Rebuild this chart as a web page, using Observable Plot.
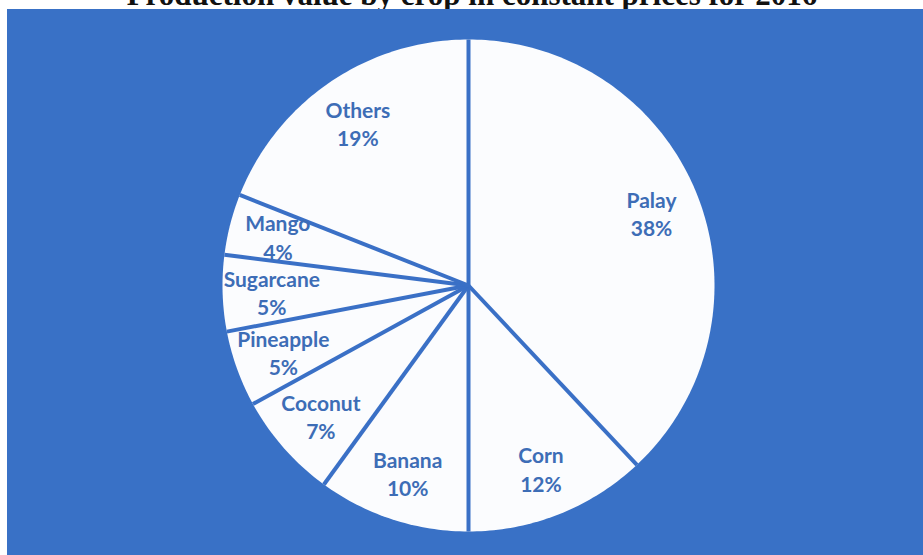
<!DOCTYPE html>
<html>
<head>
<meta charset="utf-8">
<script src="https://cdn.jsdelivr.net/npm/d3@7"></script>
<script src="https://cdn.jsdelivr.net/npm/@observablehq/plot@0.6"></script>
<style>
  html, body { margin: 0; padding: 0; background: #ffffff; overflow: hidden; width: 923px; height: 555px; }
  #title { position: absolute; left: 0; top: -21px; width: 944px; text-align: center;
    font-family: "Liberation Serif", "Times New Roman", serif; font-weight: bold; font-size: 31px; line-height: 31px; color: #111; }
  #chart { position: absolute; left: 7px; top: 9px; }
</style>
</head>
<body>
<div id="title">Production value by crop in constant prices for 2016</div>
<div id="chart"></div>
<script>
const crops = ["Palay", "Corn", "Banana", "Coconut", "Pineapple", "Sugarcane", "Mango", "Others"];
const shares = [38, 12, 10, 7, 5, 5, 4, 19];

const total = d3.sum(shares);
const cum = d3.cumsum(shares);
const slices = crops.map((name, i) => ({
  name,
  pct: shares[i],
  a0: ((cum[i] - shares[i]) / total) * 2 * Math.PI,
  a1: (cum[i] / total) * 2 * Math.PI
}));

// polygon outlines for each slice (unit radius, clockwise from 12 o'clock)
const outline = [];
for (const s of slices) {
  outline.push({name: s.name, x: 0, y: 0});
  const n = Math.max(2, Math.ceil((s.a1 - s.a0) / (Math.PI / 180)));
  for (let k = 0; k <= n; k++) {
    const a = s.a0 + (s.a1 - s.a0) * k / n;
    outline.push({name: s.name, x: Math.sin(a), y: Math.cos(a)});
  }
}
const bounds = slices.map(s => ({x1: 0, y1: 0, x2: Math.sin(s.a0), y2: Math.cos(s.a0)}));
const labelR = 0.8;
const labels = slices.map(s => {
  const m = (s.a0 + s.a1) / 2;
  return {x: labelR * Math.sin(m), y: labelR * Math.cos(m), text: `${s.name}\n${s.pct}%`};
});

const W = 916, H = 546, R = 246, cx = 461, cy = 276;
const chart = Plot.plot({
  width: W,
  height: H,
  margin: 0,
  style: {background: "#3971c6", overflow: "visible"},
  x: {domain: [-cx / R, (W - cx) / R], axis: null},
  y: {domain: [-(H - cy) / R, cy / R], axis: null},
  marks: [
    Plot.line(outline, {x: "x", y: "y", z: "name", fill: "#fbfcfe", stroke: "none", curve: "linear-closed"}),
    Plot.link(bounds, {x1: "x1", y1: "y1", x2: "x2", y2: "y2", stroke: "#3a70c6", strokeWidth: 4}),
    Plot.text(labels, {x: "x", y: "y", text: "text", fill: "#3d6db6", fontSize: 21, fontWeight: "bold",
      fontFamily: "Lato, 'Open Sans', sans-serif", lineHeight: 1.35, textAnchor: "middle"})
  ]
});
document.getElementById("chart").appendChild(chart);
</script>
</body>
</html>
